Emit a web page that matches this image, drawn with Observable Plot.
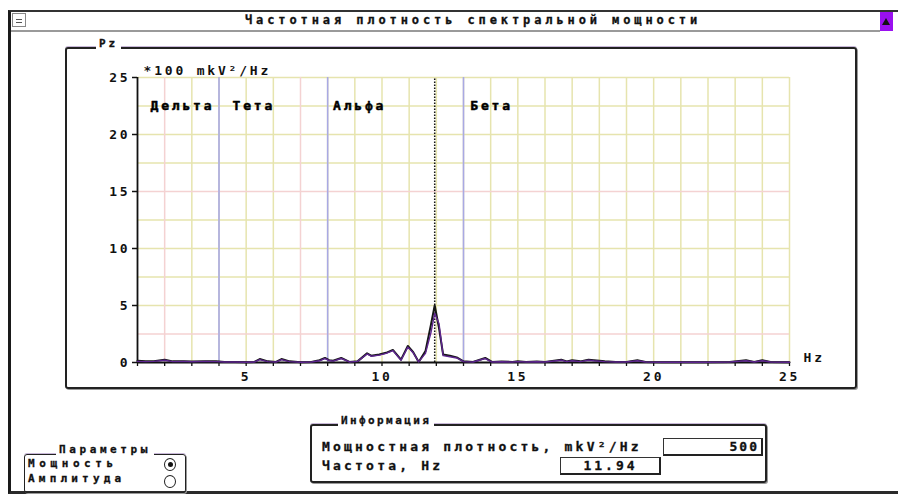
<!DOCTYPE html>
<html><head><meta charset="utf-8">
<script src="https://cdn.jsdelivr.net/npm/d3@7"></script>
<script src="https://cdn.jsdelivr.net/npm/@observablehq/plot@0.6"></script>
<style>
body{margin:0;width:900px;height:500px;background:#fff;position:relative;overflow:hidden;font-family:"DejaVu Sans Mono",monospace;font-weight:bold;font-size:13px;letter-spacing:3.2px;color:#111;-webkit-text-stroke:0.3px #111}
.a{position:absolute;white-space:nowrap}
#win{left:8px;top:10px;width:890px;height:484px;border-left:3px solid #1a1a1a;border-top:2px solid #333;border-bottom:3px solid #2a2a2a;box-sizing:border-box}
#tbar{left:11px;top:12px;width:869px;height:18px;border-bottom:2px solid #9a9a9a;background:#fff}
#btnL{left:12px;top:13px;width:14px;height:14px;border:1px solid #888;box-sizing:border-box}
#btnL:after{content:"";position:absolute;left:3px;top:5px;width:6px;height:2px;border-top:1px solid #555;border-bottom:1px solid #555}
#btnR{left:880px;top:12px;width:13px;height:19px;background:#9a10f0}
#btnR:after{content:"";position:absolute;left:2px;top:6px;border-left:4.5px solid transparent;border-right:4.5px solid transparent;border-bottom:7px solid #111}
.frame{border:2.5px solid #222;border-radius:3px;box-shadow:0 -1px 0 #c8b8d8, 1px 1px 0 #999;box-sizing:border-box}
.lbl{background:#fff;padding:0 3px}
.box{border:1px solid #333;border-right:2px solid #222;border-bottom:2px solid #222;box-sizing:border-box;background:#fff}
.radio{width:12px;height:13px;border:1.5px solid #222;border-radius:50%;box-sizing:border-box;background:#fff}
</style></head><body>
<div id="win" class="a"></div>
<div id="tbar" class="a"></div>
<div id="btnL" class="a"></div>
<div id="btnR" class="a"></div>
<div id="title" class="a" style="left:245px;top:13px;font-size:12px;letter-spacing:3.9px;">Частотная плотность спектральной мощности</div>

<div class="a frame" style="left:65px;top:47px;width:792px;height:342px;"></div>
<div class="a lbl" style="left:96px;top:37px;font-size:11px;letter-spacing:3px;">Pz</div>
<div id="chart" class="a" style="left:65px;top:50px;"></div>

<div class="a frame" style="left:310px;top:424px;width:457px;height:59px;"></div>
<div class="a lbl" style="left:338px;top:414px;font-size:11px;letter-spacing:2.4px;">Информация</div>
<div class="a" style="left:322px;top:439px;">Мощностная плотность, mkV²/Hz</div>
<div class="a box" style="left:663px;top:438px;width:100px;height:18px;"></div>
<div id="pow" class="a" style="left:663px;top:439px;width:96px;text-align:right;letter-spacing:2px;"></div>
<div class="a" style="left:322px;top:458px;">Частота, Hz</div>
<div class="a box" style="left:560px;top:457px;width:101px;height:18px;"></div>
<div id="frq" class="a" style="left:560px;top:458px;width:101px;text-align:center;letter-spacing:3px;"></div>

<div class="a frame" style="left:24px;top:454px;width:162px;height:39px;border-width:1.5px;"></div>
<div class="a lbl" style="left:56px;top:443px;font-size:11px;letter-spacing:3.6px;">Параметры</div>
<div class="a" style="left:28px;top:457px;font-size:11px;letter-spacing:4.6px;">Мощность</div>
<div class="a" style="left:28px;top:472px;font-size:11px;letter-spacing:4.2px;">Амплитуда</div>
<div class="a radio" style="left:164px;top:458px;"></div>
<div class="a" style="left:168px;top:462px;width:5px;height:5px;border-radius:50%;background:#111"></div>
<div class="a radio" style="left:164px;top:475px;"></div>

<script>
// ---- data ----
const freq = [1.0,1.3,1.6,2.0,2.3,2.7,3.0,3.5,3.9,4.2,4.6,5.0,5.3,5.5,5.8,6.1,6.3,6.6,7.0,7.4,7.7,7.9,8.05,8.2,8.5,8.8,9.1,9.45,9.6,9.9,10.15,10.4,10.7,10.95,11.15,11.35,11.6,11.8,11.94,12.1,12.25,12.5,12.75,13.0,13.35,13.8,14.05,14.4,14.8,15.0,15.3,15.7,16.0,16.6,16.8,17.0,17.3,17.6,17.8,18.2,18.6,19.0,19.4,19.7,20.3,21.0,22.0,22.8,23.4,23.7,24.0,24.3,25.0];
const powerBlack = [0.15,0.1,0.12,0.25,0.1,0.12,0.08,0.12,0.1,0.05,0.05,0.02,0.05,0.3,0.1,0.05,0.3,0.1,0.02,0.05,0.2,0.4,0.2,0.15,0.4,0.05,0.1,0.8,0.6,0.7,0.85,1.1,0.25,1.45,0.9,0.05,1.0,3.3,5.0,3.0,0.7,0.6,0.45,0.1,0.05,0.4,0.05,0.08,0.05,0.1,0.05,0.08,0.05,0.25,0.1,0.2,0.1,0.25,0.2,0.1,0.05,0.05,0.2,0.05,0.03,0.03,0.03,0.05,0.2,0.05,0.2,0.05,0.03];
const powerPurple = [0.1,0.08,0.1,0.2,0.08,0.1,0.06,0.1,0.08,0.04,0.04,0.02,0.04,0.25,0.08,0.04,0.25,0.08,0.02,0.04,0.15,0.35,0.18,0.12,0.35,0.05,0.1,0.75,0.55,0.65,0.8,1.05,0.2,1.35,0.85,0.05,0.8,2.6,4.3,3.4,0.6,0.5,0.4,0.08,0.04,0.35,0.04,0.06,0.04,0.08,0.04,0.06,0.04,0.2,0.08,0.15,0.08,0.2,0.15,0.08,0.04,0.04,0.15,0.04,0.02,0.02,0.02,0.04,0.15,0.04,0.15,0.04,0.02];
const bandNames = ["Дельта","Тета","Альфа","Бета"];
const bandLabelFreq = [1.48, 4.5, 8.2, 13.25];
const bandLabelPower = [22.5, 22.5, 22.5, 22.5];
const bandEdges = [4, 8, 13];
const yTicks = [0, 5, 10, 15, 20, 25];
const xTickLabels = [5, 10, 15, 20, 25];
const pinkGridX = [2, 7];
const pinkGridY = [2.5, 15];
const cursorFreq = 11.94;
const cursorPower = 500;
const unitLabel = "*100 mkV²/Hz";
const xUnit = "Hz";

document.getElementById("pow").textContent = cursorPower;
document.getElementById("frq").textContent = cursorFreq.toFixed(2);

const rows = freq.map((f, i) => ({f, black: powerBlack[i], purple: powerPurple[i]}));
const gridX = d3.range(2, 26);
const gridY = d3.range(2.5, 25.01, 2.5);

const chart = Plot.plot({
  width: 790, height: 335,
  marginLeft: 72, marginRight: 66, marginTop: 27, marginBottom: 23,
  x: {domain: [1, 25], label: null},
  y: {domain: [0, 25], label: null},
  style: {fontFamily: "DejaVu Sans Mono, monospace", fontSize: "13px", fontWeight: "bold", letterSpacing: "2.8px", color: "#111", background: "transparent"},
  marks: [
    Plot.ruleX(gridX.filter(d => !pinkGridX.includes(d)), {stroke: "#e6e4ae", strokeWidth: 1.5}),
    Plot.ruleY(gridY.filter(d => !pinkGridY.includes(d)), {stroke: "#e6e4ae", strokeWidth: 1.5}),
    Plot.ruleX(pinkGridX, {stroke: "#f4d2d2", strokeWidth: 1.5}),
    Plot.ruleY(pinkGridY, {stroke: "#f4d2d2", strokeWidth: 1.5}),
    Plot.ruleX(bandEdges, {stroke: "#a9a9e4", strokeWidth: 1.6}),
    Plot.ruleX([cursorFreq], {y1: 0, y2: 25, stroke: "#111", strokeDasharray: "1.5,1.5", strokeWidth: 1.5}),
    Plot.axisY(yTicks, {tickSize: 5, tickPadding: 2, label: null, stroke: "#111", strokeWidth: 1.5}),
    Plot.axisX(d3.range(1, 26), {tickSize: 4, tickPadding: 5, label: null, stroke: "#111", strokeWidth: 1.3, tickFormat: d => xTickLabels.includes(d) ? d : ""}),
    Plot.ruleY([0], {stroke: "#111", strokeWidth: 1.8}),
    Plot.ruleX([1], {stroke: "#111", strokeWidth: 1.8}),
    Plot.line(rows, {x: "f", y: "black", stroke: "#161616", strokeWidth: 2}),
    Plot.line(rows, {x: "f", y: "purple", stroke: "#5e2590", strokeWidth: 1.4}),
    Plot.text(bandNames, {x: (d, i) => bandLabelFreq[i], y: (d, i) => bandLabelPower[i], text: d => d, textAnchor: "start", fill: "#000", stroke: "#000", strokeWidth: 0.5, fontWeight: "bold", letterSpacing: "2.4px"}),
    Plot.text([unitLabel], {frameAnchor: "top-left", dx: 6, dy: -12, textAnchor: "start", fill: "#111", fontWeight: "bold", letterSpacing: "2.6px"}),
    Plot.text([xUnit], {frameAnchor: "bottom-right", dx: 14, dy: -1, textAnchor: "start", fill: "#111", fontWeight: "bold"})
  ]
});
document.getElementById("chart").appendChild(chart);
</script>
</body></html>
